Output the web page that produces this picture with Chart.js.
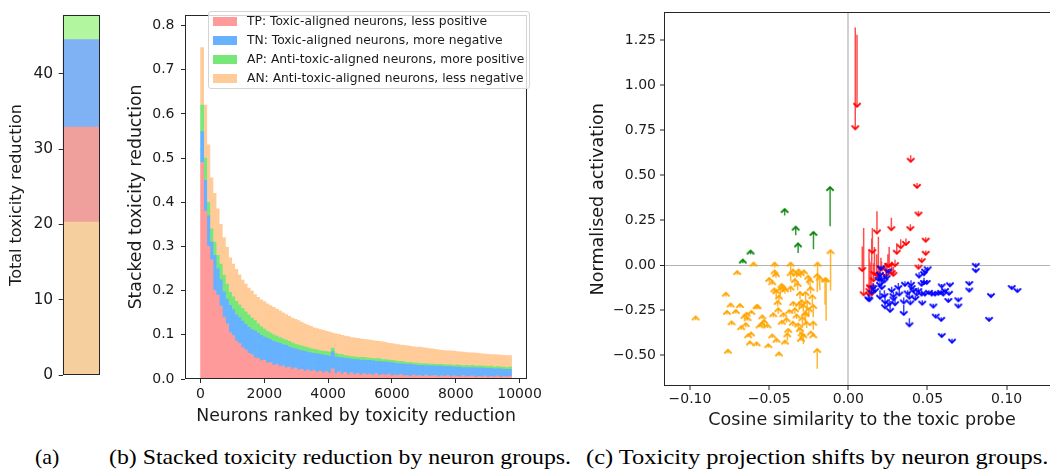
<!DOCTYPE html>
<html><head><meta charset="utf-8">
<script src="https://cdn.jsdelivr.net/npm/chart.js@4.4.0/dist/chart.umd.min.js"></script>
<style>
html,body{margin:0;padding:0;width:1050px;height:475px;overflow:hidden;background:#fff;}
canvas{position:absolute;display:block;}
.cap{position:absolute;font-family:"Liberation Serif","DejaVu Serif",serif;font-size:22px;line-height:22px;color:#000;white-space:nowrap;transform-origin:0 50%;}
#legend{position:absolute;left:208px;top:11px;width:322px;height:78px;border:1px solid #d4d4d4;border-radius:3px;background:rgba(255,255,255,0.8);font-family:"DejaVu Sans";font-size:12.3px;color:#1a1a1a;box-sizing:border-box;}
.lrow{position:absolute;left:0;height:19px;line-height:19px;white-space:nowrap;}
.lpatch{position:absolute;left:4px;top:5px;width:24px;height:9px;}
.ltext{position:absolute;left:38px;top:0;}
</style></head>
<body>
<canvas id="ca" width="110" height="390" style="left:0;top:0"></canvas>
<canvas id="cb" width="425" height="430" style="left:120px;top:0"></canvas>
<canvas id="cc" width="490" height="436" style="left:580px;top:0"></canvas>
<div id="legend"></div>
<div class="cap" id="capA" style="left:35px;top:446px">(a)</div>
<div class="cap" id="capB" style="left:108.5px;top:446px">(b) Stacked toxicity reduction by neuron groups.</div>
<div class="cap" id="capC" style="left:586px;top:446px">(c) Toxicity projection shifts by neuron groups.</div>
<script>
// ---------- Panel (a): total toxicity reduction ----------
const aCats = [''];
const aAN = [20.3];
const aTP = [12.6];
const aTN = [11.6];
const aAP = [3.3];
const aTicks = [0, 10, 20, 30, 40];

// ---------- Panel (b): stacked toxicity reduction per neuron bin ----------
const binWidth = 97.5; // neurons per bar
const legendLabels = [
  'TP: Toxic-aligned neurons, less positive',
  'TN: Toxic-aligned neurons, more negative',
  'AP: Anti-toxic-aligned neurons, more positive',
  'AN: Anti-toxic-aligned neurons, less negative'
];
const bTP = [0.49,0.38,0.30,0.27,0.20,0.19,0.165,0.14,0.125,0.105,
 0.098,0.086,0.080,0.071,0.066,0.058,0.055,0.048,0.047,0.041,
 0.043,0.036,0.037,0.031,0.033,0.028,0.030,0.025,0.027,0.022,
 0.025,0.020,0.022,0.018,0.021,0.017,0.019,0.015,0.018,0.014,
 0.017,0.013,0.023,0.012,0.016,0.011,0.015,0.010,0.014,0.010,
 0.013,0.009,0.012,0.010,0.011,0.008,0.012,0.008,0.010,0.009,
 0.011,0.007,0.009,0.008,0.010,0.007,0.008,0.006,0.009,0.007,
 0.008,0.006,0.009,0.006,0.007,0.008,0.005,0.007,0.006,0.008,
 0.005,0.007,0.006,0.005,0.008,0.005,0.006,0.007,0.004,0.006,
 0.005,0.007,0.004,0.006,0.005,0.007,0.004,0.006,0.005,0.006];
const bTN = [0.07,0.07,0.07,0.04,0.08,0.06,0.06,0.057,0.056,0.062,
 0.059,0.06,0.059,0.06,0.058,0.059,0.057,0.061,0.057,0.058,
 0.052,0.056,0.052,0.054,0.05,0.053,0.048,0.051,0.046,0.048,
 0.043,0.046,0.042,0.045,0.04,0.043,0.039,0.042,0.038,0.04,
 0.036,0.039,0.039,0.038,0.033,0.037,0.032,0.036,0.031,0.034,
 0.031,0.034,0.031,0.032,0.031,0.033,0.028,0.032,0.029,0.030,
 0.027,0.030,0.027,0.027,0.025,0.027,0.025,0.027,0.023,0.024,
 0.023,0.025,0.021,0.024,0.023,0.021,0.024,0.022,0.022,0.020,
 0.023,0.020,0.021,0.022,0.018,0.021,0.020,0.019,0.021,0.019,
 0.020,0.017,0.020,0.018,0.018,0.016,0.019,0.016,0.017,0.016];
const bAP = [0.06,0.05,0.03,0.03,0.03,0.03,0.035,0.038,0.034,0.029,
 0.029,0.03,0.029,0.029,0.028,0.028,0.026,0.023,0.021,0.019,
 0.018,0.016,0.015,0.015,0.014,0.013,0.013,0.012,0.012,0.012,
 0.011,0.011,0.011,0.010,0.010,0.009,0.009,0.009,0.008,0.009,
 0.009,0.009,0.008,0.008,0.007,0.007,0.006,0.006,0.006,0.006,
 0.005,0.006,0.006,0.006,0.005,0.005,0.006,0.006,0.005,0.005,
 0.005,0.005,0.005,0.005,0.005,0.005,0.004,0.005,0.004,0.005,
 0.004,0.004,0.005,0.004,0.004,0.004,0.004,0.004,0.004,0.004,
 0.004,0.004,0.005,0.004,0.004,0.005,0.004,0.005,0.004,0.005,
 0.004,0.005,0.004,0.005,0.004,0.005,0.004,0.005,0.004,0.005];
const bAN = [0.13,0.12,0.13,0.115,0.11,0.105,0.09,0.085,0.083,0.078,
 0.074,0.072,0.068,0.064,0.063,0.061,0.061,0.059,0.06,0.061,
 0.062,0.062,0.062,0.062,0.061,0.06,0.059,0.058,0.057,0.056,
 0.056,0.055,0.053,0.052,0.051,0.05,0.049,0.048,0.048,0.047,
 0.046,0.045,0.034,0.044,0.045,0.044,0.044,0.044,0.043,0.043,
 0.043,0.042,0.041,0.041,0.041,0.041,0.040,0.039,0.040,0.039,
 0.038,0.038,0.038,0.038,0.037,0.037,0.038,0.036,0.037,0.0365,
 0.037,0.036,0.035,0.035,0.034,0.034,0.033,0.032,0.0325,0.032,
 0.032,0.032,0.030,0.0305,0.031,0.029,0.0295,0.028,0.0295,0.028,
 0.028,0.0275,0.028,0.0265,0.028,0.0265,0.027,0.0265,0.027,0.026];
const bTicks = [0, 2000, 4000, 6000, 8000, 10000];
const bYTicks = [0, 0.1, 0.2, 0.3, 0.4, 0.5, 0.6, 0.7, 0.8];

// ---------- Panel (c): projection shifts (arrows: from -> to) ----------
const anX = [-0.0964,-0.0773,-0.0766,-0.0760,-0.0743,-0.0737,-0.0710,-0.0701,-0.0684,-0.0676,
 -0.0655,-0.0648,-0.0642,-0.0636,-0.0632,-0.0614,-0.0612,-0.0621,-0.0598,-0.0579,
 -0.0573,-0.0579,-0.0545,-0.0532,-0.0543,-0.0505,-0.0499,-0.0480,-0.0474,-0.0465,
 -0.0465,-0.0457,-0.0453,-0.0438,-0.0467,-0.0455,-0.0438,-0.0429,-0.0446,-0.0442,
 -0.0421,-0.0411,-0.0400,-0.0410,-0.0390,-0.0379,-0.0400,-0.0364,-0.0364,-0.0364,
 -0.0349,-0.0337,-0.0326,-0.0314,-0.0347,-0.0337,-0.0326,-0.0350,-0.0372,-0.0305,
 -0.0295,-0.0284,-0.0274,-0.0263,-0.0305,-0.0295,-0.0316,-0.0284,-0.0299,-0.0253,
 -0.0242,-0.0238,-0.0227,-0.0221,-0.0221,-0.0236,-0.0221,-0.0194,-0.0196,-0.0196,
 -0.0147,-0.0140,-0.0112,-0.0280,-0.0290,-0.0270,-0.0260,-0.0310,-0.0320,-0.0385,
 -0.0420,-0.0510,-0.0560,-0.0480,-0.0270,-0.0250,-0.0180,-0.0300];
const anFrom = [-0.306,-0.174,-0.275,-0.491,-0.234,-0.333,-0.270,-0.054,-0.237,-0.360,
 -0.300,-0.345,-0.285,-0.310,-0.400,-0.390,-0.270,-0.440,-0.008,-0.245,
 -0.245,-0.450,-0.340,-0.345,-0.300,-0.460,-0.095,-0.405,-0.290,-0.015,
 -0.060,-0.070,-0.430,-0.505,-0.160,-0.180,-0.200,-0.170,-0.230,-0.270,
 -0.130,-0.150,-0.160,-0.290,-0.320,-0.380,-0.440,-0.040,-0.090,-0.150,
 -0.060,-0.110,-0.070,-0.050,-0.230,-0.270,-0.300,-0.340,-0.270,-0.190,
 -0.240,-0.260,-0.300,-0.350,-0.380,-0.410,-0.360,-0.440,-0.420,-0.110,
 -0.130,-0.160,-0.220,-0.290,-0.360,-0.380,-0.400,-0.114,-0.150,-0.576,
 -0.220,-0.310,-0.141,-0.050,-0.350,-0.330,-0.250,-0.250,-0.140,-0.420,
 -0.330,-0.350,-0.345,-0.110,-0.200,-0.290,-0.140,-0.070];
const anTo = [-0.286,-0.154,-0.255,-0.471,-0.214,-0.313,-0.250,-0.034,-0.217,-0.340,
 -0.278,-0.323,-0.265,-0.290,-0.385,-0.375,-0.255,-0.425,0.013,-0.223,
 -0.223,-0.430,-0.320,-0.305,-0.280,-0.440,-0.072,-0.386,-0.268,0.013,
 -0.030,-0.045,-0.410,-0.486,-0.130,-0.140,-0.170,-0.125,-0.200,-0.240,
 -0.105,-0.115,-0.130,-0.268,-0.295,-0.355,-0.420,0.013,-0.040,-0.120,
 -0.025,-0.078,-0.042,-0.025,-0.205,-0.240,-0.275,-0.315,-0.250,-0.150,
 -0.195,-0.220,-0.265,-0.315,-0.350,-0.375,-0.325,-0.385,-0.405,-0.060,
 -0.078,-0.123,-0.168,-0.222,-0.315,-0.370,-0.385,0.013,-0.050,-0.467,
 -0.074,-0.074,0.082,-0.030,-0.290,-0.260,-0.200,-0.210,-0.100,-0.380,
 -0.310,-0.330,-0.330,-0.090,-0.150,-0.240,-0.065,-0.040];

const apX = [-0.0666,-0.0617,-0.0402,-0.0332,-0.0317,-0.0220,-0.0115];
const apFrom = [0.010,0.060,0.275,0.166,0.067,0.088,0.215];
const apTo = [0.030,0.080,0.311,0.213,0.120,0.184,0.433];

const tpX = [0.0044,0.0055,0.0394,0.0434,0.0443,0.0392,0.0272,0.0181,0.0489,0.0364,
 0.0331,0.0306,0.0489,0.0097,0.0088,0.0152,0.0148,0.0190,0.0464,0.0443,
 0.0295,0.0274,0.0285,0.0238,0.0179,0.0137,0.0206,0.0244,0.0133,0.0165,
 0.0160,0.0258,0.0131,0.0140,0.0250,0.0210];
const tpFrom = [1.32,1.28,0.61,0.456,0.30,0.227,0.263,0.299,0.154,0.148,
 0.143,0.121,0.081,0.206,0.103,0.206,0.148,0.157,0.040,0.004,
 0.030,0.020,-0.010,0.010,0.060,0.015,0.040,0.000,0.030,0.100,
 0.010,0.100,0.085,0.000,0.060,0.020];
const tpTo = [0.755,0.88,0.574,0.429,0.275,0.194,0.194,0.176,0.130,0.112,
 0.094,0.063,0.057,-0.168,-0.033,0.067,-0.168,-0.069,0.016,-0.020,
 -0.006,-0.050,-0.060,-0.065,-0.060,-0.130,-0.025,-0.040,-0.150,-0.055,
 -0.090,-0.010,-0.170,-0.130,-0.010,-0.030];

const tnX = [0.0805,0.0805,0.0764,0.0764,0.1032,0.1068,0.0901,0.0889,0.0695,0.0695,
 0.0642,0.0636,0.0632,0.0590,0.0586,0.0600,0.0537,0.0552,0.0587,0.0590,
 0.0655,0.0548,0.0569,0.0501,0.0484,0.0478,0.0478,0.0447,0.0463,0.0467,
 0.0423,0.0432,0.0396,0.0400,0.0386,0.0392,0.0375,0.0386,0.0350,0.0350,
 0.0322,0.0295,0.0285,0.0264,0.0259,0.0232,0.0228,0.0211,0.0200,0.0228,
 0.0242,0.0253,0.0126,0.0148,0.0158,0.0200,0.0206,0.0190,0.0210,0.0274,
 0.0285,0.0316,0.0358,0.0411,0.0442,0.0484,0.0509,0.0611,0.0527,0.0463,
 0.0495,0.0232,0.0200,0.0169,0.0133];
const tnFrom = [0.010,-0.020,-0.090,-0.128,-0.115,-0.130,-0.160,-0.290,-0.180,-0.215,
 -0.098,-0.145,-0.185,-0.105,-0.140,-0.150,-0.215,-0.272,-0.290,-0.380,
 -0.410,-0.150,-0.145,-0.010,-0.022,-0.036,-0.070,-0.040,-0.140,-0.195,
 -0.170,-0.145,-0.085,-0.110,-0.150,-0.195,-0.140,-0.296,-0.220,-0.180,
 -0.120,-0.180,-0.165,-0.200,-0.190,-0.160,-0.140,-0.070,-0.050,-0.050,
 -0.040,-0.020,-0.160,-0.120,-0.100,-0.020,-0.005,-0.050,-0.060,-0.120,
 -0.150,-0.100,-0.090,-0.125,-0.125,-0.145,-0.140,-0.130,-0.150,-0.090,
 -0.085,-0.200,-0.140,-0.110,-0.170];
const tnTo = [-0.010,-0.039,-0.111,-0.147,-0.133,-0.150,-0.178,-0.310,-0.201,-0.236,
 -0.118,-0.165,-0.205,-0.124,-0.160,-0.169,-0.236,-0.292,-0.310,-0.400,
 -0.431,-0.169,-0.165,-0.029,-0.042,-0.056,-0.105,-0.069,-0.169,-0.220,
 -0.194,-0.169,-0.115,-0.133,-0.187,-0.218,-0.163,-0.340,-0.277,-0.213,
 -0.169,-0.223,-0.196,-0.260,-0.223,-0.213,-0.178,-0.133,-0.115,-0.096,
 -0.078,-0.042,-0.196,-0.160,-0.133,-0.060,-0.024,-0.087,-0.087,-0.150,
 -0.178,-0.133,-0.115,-0.150,-0.150,-0.169,-0.160,-0.150,-0.169,-0.115,
 -0.105,-0.240,-0.187,-0.150,-0.201];
const cXTicks = [-0.10, -0.05, 0.00, 0.05, 0.10];
const cYTicks = [-0.50, -0.25, 0.00, 0.25, 0.50, 0.75, 1.00, 1.25];

// ---------- common ----------
Chart.defaults.font.family = 'DejaVu Sans';
Chart.defaults.font.size = 14;
Chart.defaults.color = '#1a1a1a';
const INK = '#1a1a1a', SPINE = '#262626';
const boxPlugin = {id:'box', afterDraw(chart){
  const {ctx, chartArea:a} = chart;
  ctx.save(); ctx.strokeStyle = SPINE; ctx.lineWidth = 1;
  ctx.strokeRect(Math.round(a.left)+0.5, Math.round(a.top)+0.5, Math.round(a.right-a.left)-1, Math.round(a.bottom-a.top)-1);
  ctx.restore();
}};
const minus = v => (v < -1e-9 ? '\u2212' : '') + Math.abs(v).toFixed(2);
const tickGrid = {drawOnChartArea:false, tickLength:4, tickColor:SPINE, color:SPINE, tickWidth:1};
const baseOpts = {responsive:false, animation:false, events:[], plugins:{legend:{display:false}, tooltip:{enabled:false}}};

// ---------- (a) ----------
new Chart(document.getElementById('ca'), {
  type:'bar',
  data:{labels:aCats, datasets:[
    {label:'AN', data:aAN, backgroundColor:'#f6cf9f'},
    {label:'TP', data:aTP, backgroundColor:'#f0a09c'},
    {label:'TN', data:aTN, backgroundColor:'#7eb2f5'},
    {label:'AP', data:aAP, backgroundColor:'#b3f6a0'}]},
  options:Object.assign({}, baseOpts, {
    layout:{padding:{top:12,right:10,bottom:8,left:0}},
    datasets:{bar:{barPercentage:1, categoryPercentage:1, borderWidth:0}},
    scales:{
      x:{stacked:true, display:false},
      y:{stacked:true, min:0, max:47.8, afterFit:s=>{s.width=62.7;},
         afterBuildTicks:s=>{s.ticks = aTicks.map(v=>({value:v}));},
         ticks:{padding:5.5, color:INK, font:{size:15.5}}, grid:tickGrid, border:{display:false},
         title:{display:true, text:'Total toxicity reduction', font:{size:16}, color:INK, padding:{top:7.5,bottom:0}}}
    }}),
  plugins:[boxPlugin]
});

// ---------- (b) ----------
const bColors = ['#ff9a9a','#66b2ff','#77e877','#ffcc99'];
const bSeries = [bTP, bTN, bAP, bAN];
const bChart = new Chart(document.getElementById('cb'), {
  type:'bar',
  data:{datasets: bSeries.map((s, k) => ({
    label: legendLabels[k],
    data: s.map((v, i) => ({x: (i + 0.5) * binWidth, y: v})),
    backgroundColor: bColors[k]
  }))},
  options:Object.assign({}, baseOpts, {
    layout:{padding:{top:4.7,right:8,bottom:0,left:0}},
    datasets:{bar:{barPercentage:1, categoryPercentage:1, borderWidth:0}},
    scales:{
      x:{type:'linear', stacked:true, offset:false, min:-487.5, max:10237.5, afterFit:s=>{s.height=51;},
         afterBuildTicks:s=>{s.ticks = bTicks.map(v=>({value:v}));},
         ticks:{padding:3, color:INK, callback:v=>String(v), maxRotation:0},
         grid:Object.assign({offset:false}, tickGrid), border:{display:false},
         title:{display:true, text:'Neurons ranked by toxicity reduction', font:{size:17.3}, color:INK, padding:{top:0,bottom:3.5}}},
      y:{stacked:true, min:0, max:0.824, afterFit:s=>{s.width=65;},
         afterBuildTicks:s=>{s.ticks = bYTicks.map(v=>({value:v}));},
         ticks:{padding:6.5, color:INK, callback:v=>v.toFixed(1)}, grid:tickGrid, border:{display:false},
         title:{display:true, text:'Stacked toxicity reduction', font:{size:17.3}, color:INK, padding:{top:6.5,bottom:0}}}
    }}),
  plugins:[boxPlugin]
});

// legend (HTML, built from the chart's datasets)
const leg = document.getElementById('legend');
bChart.data.datasets.forEach((d, k) => {
  const row = document.createElement('div'); row.className = 'lrow'; row.style.top = (k * 19) + 'px';
  const p = document.createElement('div'); p.className = 'lpatch'; p.style.background = d.backgroundColor;
  const t = document.createElement('div'); t.className = 'ltext'; t.textContent = d.label;
  row.appendChild(p); row.appendChild(t); leg.appendChild(row);
});

// ---------- (c) ----------
function chevron(color){
  const c = document.createElement('canvas'); c.width = 10; c.height = 10;
  const g = c.getContext('2d'); g.strokeStyle = color; g.lineWidth = 1.9; g.lineJoin = 'miter';
  g.beginPath(); g.moveTo(1.4,1.4); g.lineTo(5,5); g.lineTo(8.6,1.4); g.stroke();
  return c;
}
function shafts(xs, from, to){ const d = []; xs.forEach((x, i) => { d.push({x, y:from[i]}, {x, y:to[i]}, {x, y:null}); }); return d; }
function heads(xs, to){ return xs.map((x, i) => ({x, y:to[i]})); }
function arrowSets(xs, from, to, head, shaft, up){
  return [
    {data:heads(xs, to), pointStyle:chevron(head), pointRadius:5, pointRotation: up ? 180 : 0, showLine:false},
    {data:shafts(xs, from, to), showLine:true, spanGaps:false, pointRadius:0, borderColor:shaft, borderWidth:1.5}
  ];
}
new Chart(document.getElementById('cc'), {
  type:'scatter',
  data:{datasets:[].concat(
    arrowSets(tnX, tnFrom, tnTo, '#0000ff', 'rgba(0,0,255,0.75)', false),
    arrowSets(tpX, tpFrom, tpTo, '#ff0000', 'rgba(255,0,0,0.7)', false),
    arrowSets(apX, apFrom, apTo, '#008000', 'rgba(0,128,0,0.8)', true),
    arrowSets(anX, anFrom, anTo, '#ffa500', 'rgba(255,165,0,0.8)', true)
  )},
  options:Object.assign({}, baseOpts, {
    layout:{padding:{top:4,right:10,bottom:0,left:0}},
    scales:{
      x:{type:'linear', min:-0.1164, max:0.1337, afterFit:s=>{s.height=50;},
         afterBuildTicks:s=>{s.ticks = cXTicks.map(v=>({value:v}));},
         ticks:{padding:0.5, color:INK, callback:minus, maxRotation:0},
         grid:{drawOnChartArea:true, tickLength:4, tickColor:SPINE, tickWidth:1,
               color:c=> (c.tick && Math.abs(c.tick.value) < 1e-9) ? 'rgba(150,150,150,0.45)' : 'rgba(0,0,0,0)',
               lineWidth:c=> (c.tick && Math.abs(c.tick.value) < 1e-9) ? 2 : 0},
         border:{display:false},
         title:{display:true, text:'Cosine similarity to the toxic probe', font:{size:17.6}, color:INK, padding:{top:0,bottom:5.5}}},
      y:{type:'linear', min:-0.672, max:1.404, afterFit:s=>{s.width=84;},
         afterBuildTicks:s=>{s.ticks = cYTicks.map(v=>({value:v}));},
         ticks:{padding:4, color:INK, callback:minus},
         grid:{drawOnChartArea:true, tickLength:4, tickColor:SPINE, tickWidth:1,
               color:c=> (c.tick && Math.abs(c.tick.value) < 1e-9) ? 'rgba(128,128,128,0.6)' : 'rgba(0,0,0,0)',
               lineWidth:c=> (c.tick && Math.abs(c.tick.value) < 1e-9) ? 1 : 0},
         border:{display:false},
         title:{display:true, text:'Normalised activation', font:{size:17.6}, color:INK, padding:{top:7.8,bottom:0}}}
    }}),
  plugins:[boxPlugin]
});

// captions: stretch to the measured widths of the reference layout
[['capB', 462], ['capC', 462]].forEach(([id, w]) => {
  const el = document.getElementById(id);
  el.style.transform = 'scaleX(' + (w / el.offsetWidth) + ')';
});
</script>
</body></html>
